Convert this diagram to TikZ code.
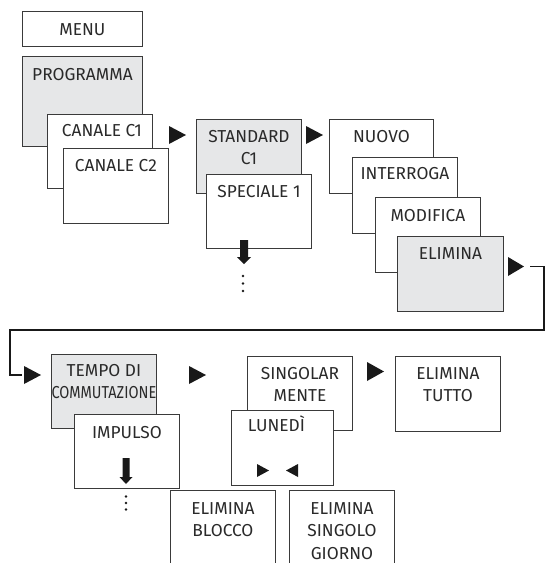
\documentclass[tikz,border=0pt]{standalone}
\usepackage{fontspec}
\setmainfont{Fira Sans}
\definecolor{linec}{HTML}{3A3A3A}
\definecolor{boxgray}{HTML}{E6E7E8}
\definecolor{textc}{HTML}{2A2A2A}
\newcommand\mlines[1]{\begin{tabular}[t]{@{}c@{}}#1\end{tabular}}
\begin{document}
\begin{tikzpicture}[x=1pt,y=-1pt,
  box/.style={draw=linec, line width=0.9pt, fill=white, rectangle, anchor=north west,
    minimum width=105pt, minimum height=74pt, inner sep=0pt},
  gbox/.style={box, fill=boxgray},
  lbl/.style={anchor=base, inner sep=0pt,
    font=\fontsize{17.3}{22.5}\selectfont, text=textc},
  tri/.style={fill=black!90},
  conn/.style={draw=black!90, line width=1.8pt},
  dot/.style={fill=black!90}]
\useasboundingbox (0,0) rectangle (545,563);
\clip (0,0) rectangle (545,563);

% column 1
\node[box, minimum width=120pt, minimum height=35pt] (menu) at (22,11) {};
\node[lbl] (menut) at ([yshift=-24pt]menu.north) {\mlines{MENU}};
\node[gbox, minimum width=120pt, minimum height=90pt] (prog) at (22,56) {};
\node[lbl] (progt) at ([yshift=-24pt]prog.north) {\mlines{PROGRAMMA}};
\node[box] (c1) at (47,114) {};
\node[lbl] (c1t) at ([xshift=2pt,yshift=-22.5pt]c1.north) {\mlines{CANALE C1}};
\node[box, minimum height=75pt] (c2) at (63,148) {};
\node[lbl] (c2t) at ([yshift=-23pt]c2.north) {\mlines{CANALE C2}};
\fill[tri] (169,126) -- (186,135) -- (169,144) -- cycle;

% column 2
\node[gbox] (std) at (196,119) {};
\node[lbl] (stdt) at ([yshift=-23pt]std.north) {\mlines{STANDARD\\C1}};
\node[box] (spec) at (206,174) {};
\node[lbl] (spect) at ([yshift=-23pt]spec.north) {\mlines{SPECIALE 1}};
\fill[tri] (240,240) -- (248,240) -- (248,257) -- (251,257) -- (244,264) -- (237,257) -- (240,257) -- cycle;
\fill[dot] (243,276) circle (1.3) (243,283.5) circle (1.3) (243,291) circle (1.3);
\fill[tri] (306,126) -- (323,135) -- (306,144) -- cycle;

% column 3
\node[box, minimum width=104pt] (nuovo) at (329,119) {};
\node[lbl] (nuovot) at ([yshift=-23pt]nuovo.north) {\mlines{NUOVO}};
\node[box, minimum height=76pt] (interr) at (352,157) {};
\node[lbl] (interrt) at ([yshift=-22.5pt]interr.north) {\mlines{INTERROGA}};
\node[box, minimum height=75pt] (modif) at (375,197) {};
\node[lbl] (modift) at ([yshift=-24pt]modif.north) {\mlines{MODIFICA}};
\node[gbox, minimum width=106pt, minimum height=75pt] (elim) at (397,236) {};
\node[lbl] (elimt) at ([yshift=-23pt]elim.north) {\mlines{ELIMINA}};
\fill[tri] (508,257) -- (524,266.5) -- (508,276) -- cycle;

% connector back to second row
\coordinate (eout) at (530,266.5);
\coordinate (tin) at (22,375);
\draw[conn] (eout) -- (544,266.5) -- (544,330) -- (10,330) -- (10,375) -- (tin);
\fill[tri] (24,366) -- (41,375) -- (24,384) -- cycle;

% row 2
\node[gbox] (tempo) at (51,354) {};
\node[lbl] (tempot) at ([yshift=-22pt]tempo.north) {\mlines{TEMPO DI\\\scalebox{0.84}[1]{COMMUTAZIONE}}};
\node[box] (imp) at (74,414) {};
\node[lbl] (impt) at ([yshift=-24pt]imp.north) {\mlines{IMPULSO}};
\fill[tri] (122.5,458) -- (129.5,458) -- (129.5,477) -- (132.5,477) -- (126,484) -- (119.5,477) -- (122.5,477) -- cycle;
\fill[dot] (126,496.5) circle (1.3) (126,503) circle (1.3) (126,509.5) circle (1.3);
\fill[tri] (189,366) -- (206,375) -- (189,384) -- cycle;

\node[box] (sing) at (247,356) {};
\node[lbl] (singt) at ([yshift=-23pt]sing.north) {\mlines{SINGOLAR\\MENTE}};
\node[box, minimum width=102pt, minimum height=75pt] (lun) at (231,410) {};
\node[lbl] (lunt) at ([xshift=-6pt,yshift=-21pt]lun.north) {\mlines{LUNEDÌ}};
\fill[tri] (257,464) -- (269,470.5) -- (257,477) -- cycle;
\fill[tri] (298,464) -- (286,470.5) -- (298,477) -- cycle;
\fill[tri] (367,362) -- (384,371.5) -- (367,381) -- cycle;

\node[box, minimum height=75pt] (tutto) at (395,356) {};
\node[lbl] (tuttot) at ([yshift=-23pt]tutto.north) {\mlines{ELIMINA\\TUTTO}};

\node[box, minimum height=90pt] (blocco) at (170,490) {};
\node[lbl] (bloccot) at ([yshift=-24pt]blocco.north) {\mlines{ELIMINA\\BLOCCO}};
\node[box, minimum height=90pt] (sgiorno) at (289,490) {};
\node[lbl] (sgiornot) at ([yshift=-24pt]sgiorno.north) {\mlines{ELIMINA\\SINGOLO\\GIORNO}};
\end{tikzpicture}
\end{document}
